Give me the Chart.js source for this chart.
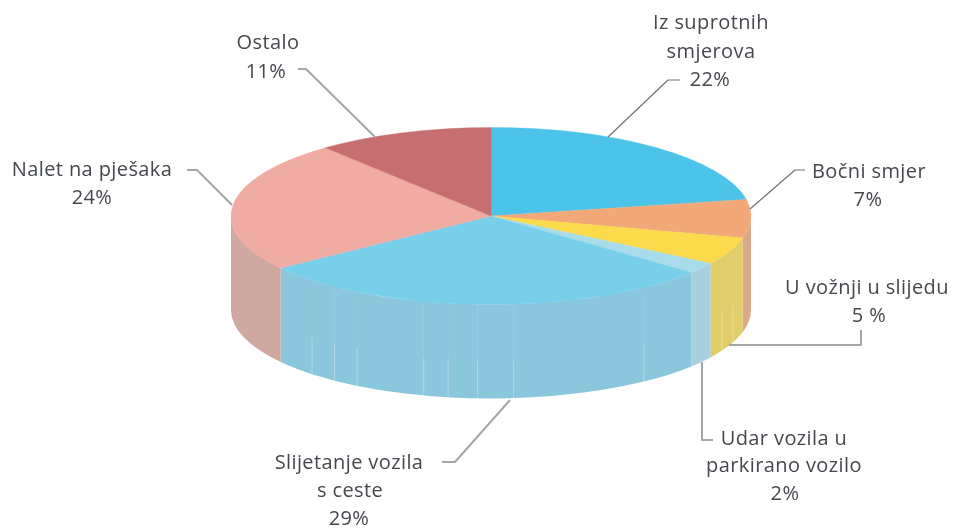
<!DOCTYPE html>
<html>
<head>
<meta charset="utf-8">
<style>
  html, body { margin: 0; padding: 0; background: #fff; }
  canvas { display: block; filter: blur(0.45px); }
</style>
<script src="https://cdn.jsdelivr.net/npm/chart.js@4"></script>
</head>
<body>
<canvas id="grafikon" width="954" height="528"></canvas>
<script>
const kategorije = ["Iz suprotnih smjerova", "Bočni smjer", "U vožnji u slijedu", "Udar vozila u parkirano vozilo", "Slijetanje vozila s ceste", "Nalet na pješaka", "Ostalo"];
const vrijednosti = [22, 7, 5, 2, 29, 24, 11];
const bojeVrh = ["#4cc4e9", "#f3a87a", "#fbda4c", "#a9dcea", "#78cfe9", "#f0aca3", "#c76f70"];
const bojeBok = ["#4cc4e9", "#d9a98a", "#e2cd6c", "#a9d0dc", "#8ac6dc", "#cfa8a2", "#c76f70"];

// labels: text lines, then x and y of each line centre
const natpisi = [
  [["Iz suprotnih", 711, 23], ["smjerova", 711, 52], ["22%", 710, 80]],
  [["Bočni smjer", 869, 172], ["7%", 868, 200]],
  [["U vožnji u slijedu", 867, 288], ["5 %", 869, 316]],
  [["Udar vozila u", 784, 439], ["parkirano vozilo", 784, 466], ["2%", 785, 494]],
  [["Slijetanje vozila", 349, 463], ["s ceste", 350, 491], ["29%", 349, 519]],
  [["Nalet na pješaka", 92, 170], ["24%", 92, 198]],
  [["Ostalo", 268, 43], ["11%", 266, 72]],
];
const vodilice = [
  [[680, 80], [668, 80], [608, 137]],
  [[805, 170], [795, 170], [750, 209]],
  [[861, 330], [861, 345], [729, 345]],
  [[702, 362], [702, 440], [713, 440]],
  [[442, 462], [455, 462], [510, 400]],
  [[187, 170], [197, 170], [232, 205]],
  [[298, 69], [306, 69], [375, 137]],
];
const tanke = [0, 1];

const spljosti = 88.5 / 260;
const dubina = 94;
// wall seams, degrees clockwise from the top of the pie
const savovi = [111.4, 117.4, 144, 175, 183, 189.5, 195, 211, 217, 223.5];

function tockaRuba(arc, kut, dy) {
  return [arc.x + arc.outerRadius * Math.cos(kut), arc.y + arc.outerRadius * spljosti * Math.sin(kut) + dy];
}

const pita3d = {
  id: "pita3d",
  beforeDatasetsDraw(chart) {
    const ctx = chart.ctx;
    const luk = chart.getDatasetMeta(0).data;
    luk.forEach((arc, i) => {
      const a = Math.max(arc.startAngle, 0);
      const b = Math.min(arc.endAngle, Math.PI);
      if (b <= a) return;
      ctx.beginPath();
      ctx.ellipse(arc.x, arc.y, arc.outerRadius, arc.outerRadius * spljosti, 0, a, b);
      ctx.ellipse(arc.x, arc.y + dubina, arc.outerRadius, arc.outerRadius * spljosti, 0, b, a, true);
      ctx.closePath();
      ctx.fillStyle = bojeBok[i];
      ctx.fill();
    });
    const prvi = luk[0];
    ctx.lineWidth = 1;
    savovi.forEach((stup) => {
      const kut = (stup - 90) * Math.PI / 180;
      const g = tockaRuba(prvi, kut, 0);
      const d = tockaRuba(prvi, kut, dubina);
      ctx.strokeStyle = "rgba(255,255,255,0.1)";
      ctx.beginPath();
      ctx.moveTo(g[0], g[1]);
      ctx.lineTo(d[0], d[1]);
      ctx.stroke();
      ctx.strokeStyle = "rgba(255,255,255,0.25)";
      ctx.beginPath();
      ctx.moveTo(g[0], g[1] + dubina * 0.6);
      ctx.lineTo(d[0], d[1]);
      ctx.stroke();
    });
    ctx.save();
    ctx.translate(prvi.x, prvi.y);
    ctx.scale(1, spljosti);
    ctx.translate(-prvi.x, -prvi.y);
  },
  afterDatasetsDraw(chart) {
    chart.ctx.restore();
  },
  afterDraw(chart) {
    const ctx = chart.ctx;
    ctx.save();
    ctx.lineJoin = "round";
    vodilice.forEach((crta, i) => {
      ctx.beginPath();
      crta.forEach((t, j) => (j ? ctx.lineTo(t[0], t[1]) : ctx.moveTo(t[0], t[1])));
      ctx.strokeStyle = tanke.includes(i) ? "#6f7276" : "#a3a5a7";
      ctx.lineWidth = tanke.includes(i) ? 1.2 : 2;
      ctx.stroke();
    });
    ctx.font = "20px 'Open Sans'";
    ctx.letterSpacing = "0.4px";
    ctx.fillStyle = "#44484e";
    ctx.textAlign = "center";
    ctx.textBaseline = "middle";
    natpisi.forEach((redovi) => {
      redovi.forEach((red) => ctx.fillText(red[0], red[1], red[2]));
    });
    ctx.restore();
  },
};

new Chart(document.getElementById("grafikon"), {
  type: "pie",
  data: {
    labels: kategorije,
    datasets: [
      {
        data: vrijednosti,
        backgroundColor: bojeVrh,
        borderColor: bojeVrh,
        borderWidth: 0.6,
        radius: 260,
      },
    ],
  },
  options: {
    responsive: false,
    animation: false,
    layout: { padding: { left: 28, bottom: 96 } },
    plugins: { legend: { display: false }, tooltip: { enabled: false } },
  },
  plugins: [pita3d],
});
</script>
</body>
</html>
